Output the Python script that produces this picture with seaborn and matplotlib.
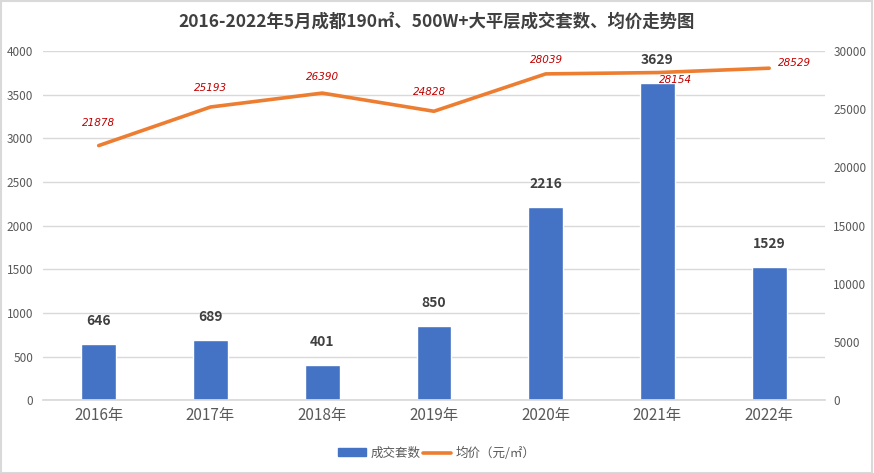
import numpy as np
import pandas as pd
import matplotlib
matplotlib.use('Agg')
import matplotlib.pyplot as plt
import seaborn as sns
from matplotlib.patches import Rectangle
from matplotlib.lines import Line2D

years = ['2016年', '2017年', '2018年', '2019年', '2020年', '2021年', '2022年']
counts = [646, 689, 401, 850, 2216, 3629, 1529]
prices = [21878, 25193, 26390, 24828, 28039, 28154, 28529]

sns.set_theme(style='white')
plt.rcParams['font.family'] = ['Noto Sans CJK SC', 'DejaVu Sans']

df = pd.DataFrame({'year': years, 'count': counts, 'price': prices})
df['pos'] = np.arange(len(df))

fig = plt.figure(figsize=(8.74, 4.73), dpi=100)
ax = fig.add_axes([0.049, 0.154, 0.895, 0.738])

sns.barplot(data=df, x='year', y='count', color='#4472C4', saturation=1, width=0.31, ax=ax)
ax.set_ylim(0, 4000)
ax.set_yticks(range(0, 4001, 500))
ax.set_xlim(-0.5, 6.5)
ax.grid(axis='y', color='#D9D9D9', lw=1)
ax.set_axisbelow(True)
ax.set_xlabel('')
ax.set_ylabel('')
for s in ax.spines.values():
    s.set_visible(False)
ax.spines['bottom'].set_visible(True)
ax.spines['bottom'].set_color('#D9D9D9')
ax.tick_params(axis='x', colors='#595959', labelsize=11, length=0, pad=5)
ax.tick_params(axis='y', colors='#595959', labelsize=8.5, length=0, pad=7)

# 柱子上的数字
for i, v in enumerate(counts):
    ax.annotate(str(v), (i, v), xytext=(0, 23), textcoords='offset pixels',
                ha='center', va='center', fontsize=10, fontweight='bold', color='#404040')

ax2 = ax.twinx()
sns.lineplot(data=df, x='pos', y='price', color='#ED7D31', lw=2.6, ax=ax2)
ax2.set_ylim(0, 30000)
ax2.set_yticks(range(0, 30001, 5000))
ax2.set_xlim(-0.5, 6.5)
ax2.set_ylabel('')
ax2.set_xlabel('')
for s in ax2.spines.values():
    s.set_visible(False)
ax2.tick_params(axis='y', colors='#595959', labelsize=8.5, length=0, pad=6)

# 均价标签（位置照原图微调）
offs = [(0, 23), (0, 19), (0, 16), (-4, 19), (1, 14), (18, -7), (25, 5)]
for i, v in enumerate(prices):
    ax2.annotate(str(v), (i, v), xytext=offs[i], textcoords='offset pixels',
                 ha='center', va='center', fontsize=7.5, style='italic',
                 family='DejaVu Sans', color='#C00000')

fig.text(0.5, 0.955, '2016-2022年5月成都190㎡、500W+大平层成交套数、均价走势图',
         ha='center', va='center', fontsize=12.5, fontweight='bold', color='#404040')

handles = [Rectangle((0, 0), 1, 1, color='#4472C4'),
           Line2D([0], [0], color='#ED7D31', lw=2.6)]
fig.legend(handles, ['成交套数', '均价（元/㎡）'], loc='center', bbox_to_anchor=(0.5, 0.042),
           ncol=2, frameon=False, fontsize=9, labelcolor='#595959',
           handlelength=2.2, handleheight=0.6, columnspacing=0.2, handletextpad=0.4)

fig.patches.append(Rectangle((0.001, 0.001), 0.997, 0.997, transform=fig.transFigure,
                             fill=False, edgecolor='#D9D9D9', lw=1.5))

fig.savefig('out.png', dpi=100)
